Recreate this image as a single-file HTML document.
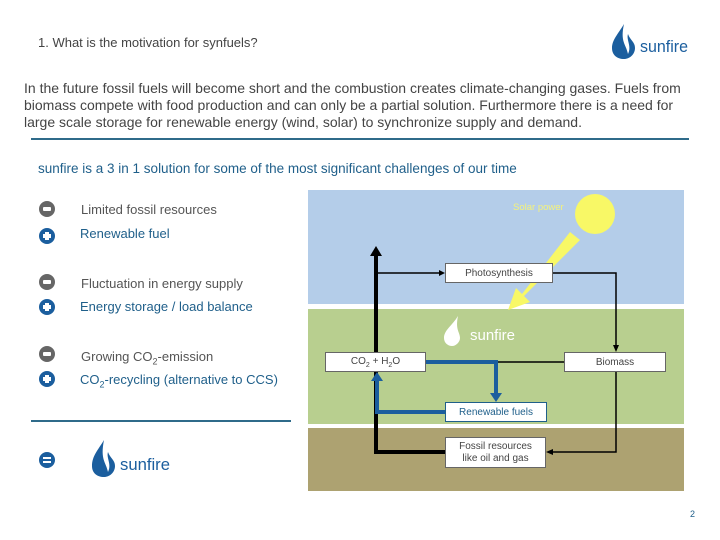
<!DOCTYPE html>
<html><head><meta charset="utf-8"><style>
body{margin:0;width:720px;height:540px;background:#fff;position:relative;overflow:hidden;font-family:"Liberation Sans",sans-serif}
.t{position:absolute;white-space:nowrap}
.ic{position:absolute;width:16px;height:16px;border-radius:50%}
.m{background:#666}.p{background:#1b5e9e}.e{background:#1b5e9e}
.m::after{content:"";position:absolute;left:4px;top:6px;width:8px;height:4px;background:#fff;border-radius:1px}
.p::after{content:"";position:absolute;left:4px;top:6px;width:8px;height:4px;background:#fff}
.p::before{content:"";position:absolute;left:6px;top:4px;width:4px;height:8px;background:#fff}
.e::before{content:"";position:absolute;left:4px;top:5px;width:8px;height:2px;background:#fff}
.e::after{content:"";position:absolute;left:4px;top:9px;width:8px;height:2px;background:#fff}
.g{color:#555;font-size:13px}.b{color:#1f5f8a;font-size:13px}
.box{position:absolute;background:#fff;border:1px solid #666;font-size:10px;color:#444;text-align:center;box-sizing:border-box;display:flex;align-items:center;justify-content:center}
</style></head><body>
<div class="t" style="left:38px;top:35px;font-size:13px;color:#444">1. What is the motivation for synfuels?</div>
<svg style="position:absolute;left:608px;top:22px" width="100" height="40"><path d="M16 2 C10 12 4 18 4 26 C4 33 9 37 16 37 C22 37 27 32 27 26 C27 20 22 18 20 12 C18 18 24 24 20 32 C18 22 12 20 16 2Z" fill="#1b5e9e"/><text x="32" y="30" font-family="Liberation Sans" font-size="17" fill="#1b5e9e" textLength="48" lengthAdjust="spacingAndGlyphs">sunfire</text></svg>
<div class="t" style="left:24px;top:80px;font-size:14px;color:#444;line-height:17px;letter-spacing:0px">In the future fossil fuels will become short and the combustion creates climate-changing gases. Fuels from<br>biomass compete with food production and can only be a partial solution. Furthermore there is a need for<br>large scale storage for renewable energy (wind, solar) to synchronize supply and demand.</div>
<div style="position:absolute;left:31px;top:138px;width:658px;height:2px;background:#2f6b8a"></div>
<div class="t b" style="left:38px;top:161px;font-size:13.5px">sunfire is a 3 in 1 solution for some of the most significant challenges of our time</div>
<div class="ic m" style="left:39px;top:201px"></div><div class="t g" style="left:81px;top:202px">Limited fossil resources</div>
<div class="ic p" style="left:39px;top:228px"></div><div class="t b" style="left:80px;top:226px">Renewable fuel</div>
<div class="ic m" style="left:39px;top:274px"></div><div class="t g" style="left:81px;top:276px">Fluctuation in energy supply</div>
<div class="ic p" style="left:39px;top:299px"></div><div class="t b" style="left:80px;top:299px">Energy storage / load balance</div>
<div class="ic m" style="left:39px;top:346px"></div><div class="t g" style="left:81px;top:349px">Growing CO<sub style="font-size:9px">2</sub>-emission</div>
<div class="ic p" style="left:39px;top:371px"></div><div class="t b" style="left:80px;top:372px">CO<sub style="font-size:9px">2</sub>-recycling (alternative to CCS)</div>
<div style="position:absolute;left:31px;top:420px;width:260px;height:2px;background:#2f6b8a"></div>
<div class="ic e" style="left:39px;top:452px"></div>
<svg style="position:absolute;left:88px;top:438px" width="90" height="42"><path d="M16 2 C10 12 4 18 4 28 C4 35 9 39 16 39 C22 39 27 34 27 28 C27 22 22 20 20 14 C18 20 24 26 20 34 C18 24 12 22 16 2Z" fill="#1b5e9e"/><text x="32" y="32" font-family="Liberation Sans" font-size="17" fill="#1b5e9e" textLength="50" lengthAdjust="spacingAndGlyphs">sunfire</text></svg>
<svg style="position:absolute;left:0;top:0" width="720" height="540">
<rect x="308" y="190" width="376" height="114" fill="#b4cde9"/>
<rect x="308" y="309" width="376" height="115" fill="#b8cf8f"/>
<rect x="308" y="428" width="376" height="63" fill="#ada271"/>
<circle cx="595" cy="214" r="20" fill="#f8f866"/>
<text x="513" y="210" font-size="9.5" fill="#f4f27a" font-family="Liberation Sans">Solar power</text>
<polygon points="570,232 580,240 524,296 530,302 508,310 516,288 522,294" fill="#f8f866"/>
<path d="M376 362 V254" stroke="#000" stroke-width="4"/>
<polygon points="370,256 376,246 382,256" fill="#000"/>
<path d="M376 372 V452 H445" stroke="#000" stroke-width="4" fill="none"/>
<path d="M376 273 H440" stroke="#000" stroke-width="1.5"/><polygon points="439,270 445,273 439,276"/>
<path d="M553 273 H616 V346" stroke="#000" stroke-width="1.5" fill="none"/><polygon points="613,345 616,352 619,345"/>
<path d="M616 372 V452 H552" stroke="#000" stroke-width="1.5" fill="none"/><polygon points="553,449 546,452 553,455"/>
<path d="M564 362 H496" stroke="#000" stroke-width="1.5"/>
<path d="M426 362 H496 V394" stroke="#1b5e9e" stroke-width="4" fill="none"/><polygon points="490,393 496,402 502,393" fill="#1b5e9e"/>
<path d="M445 412 H377 V380" stroke="#1b5e9e" stroke-width="4" fill="none"/><polygon points="371,381 377,372 383,381" fill="#1b5e9e"/>
<path d="M458 316 C452 326 444 330 444 338 C444 343 448 346 452 346 C456 346 460 342 460 338 C460 332 455 330 458 316Z" fill="#fff"/>
<text x="470" y="340" font-size="15" fill="#fff" font-family="Liberation Sans">sunfire</text>
</svg>
<div class="box" style="left:445px;top:263px;width:108px;height:20px">Photosynthesis</div>
<div class="box" style="left:325px;top:352px;width:101px;height:20px"><span>CO<sub style="font-size:7px">2</sub> + H<sub style="font-size:7px">2</sub>O</span></div>
<div class="box" style="left:564px;top:352px;width:102px;height:20px">Biomass</div>
<div class="box" style="left:445px;top:402px;width:102px;height:20px;color:#1f5f8a;border-color:#1f5f8a">Renewable fuels</div>
<div class="box" style="left:445px;top:437px;width:101px;height:31px;line-height:12px"><span>Fossil resources<br>like oil and gas</span></div>
<div class="t" style="left:690px;top:509px;font-size:9px;color:#1f5f8a">2</div>
</body></html>
